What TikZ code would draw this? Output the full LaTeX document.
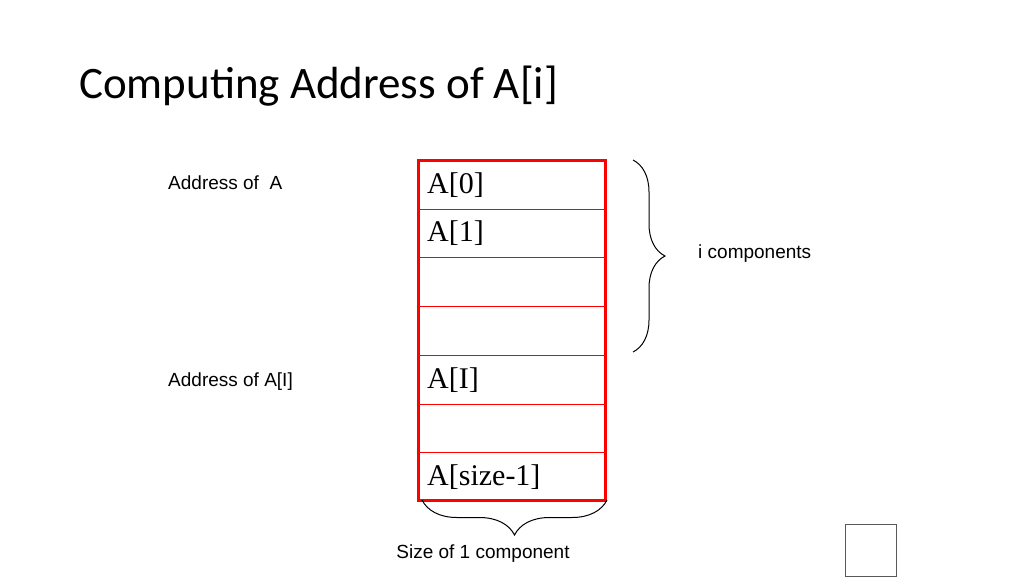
\documentclass[tikz,border=0pt]{standalone}
\usepackage{fontspec}
\setmainfont{Liberation Serif}
\newfontfamily\titlefont{Carlito}
\newfontfamily\labfont{Liberation Sans}
\usetikzlibrary{decorations.pathreplacing}
\begin{document}
\begin{tikzpicture}[x=1pt,y=-1pt,
  lab/.style={font=\labfont\fontsize{19}{22}\selectfont,anchor=west,inner sep=0},
  cell/.style={font=\fontsize{30}{34}\selectfont,anchor=west,inner sep=0},
  bracepath/.style={decorate,line width=1pt}]
\useasboundingbox (0,0) rectangle (1024,576);
\node[anchor=west,inner sep=0,font=\titlefont\fontsize{45}{50}\selectfont] (title) at (79,86) {Computing Address of A[i]};
\node[lab] (la) at (168,183) {Address of\ \ A};
\node[lab] (li) at (168,382) {Address of A[I]};
\foreach \y in {209,257,306,355,404,452} \draw[red,line width=0.8pt] (418,\y) -- (605,\y);
\draw[red,line width=3pt] (418,160) rectangle (605,500);
\node[cell] (c0) at (427,185) {A[0]};
\node[cell] (c1) at (427,233) {A[1]};
\node[cell] (ci) at (427,380) {A[I]};
\node[cell] (cs) at (427,477) {A[size-1]};
\coordinate (b1) at (633,160);
\coordinate (b2) at (633,352);
\draw[bracepath,decoration={brace,amplitude=32pt}] (b1) -- (b2);
\node[lab] (ic) at (698,254) {i components};
\coordinate (b3) at (607,500);
\coordinate (b4) at (422,500);
\draw[bracepath,decoration={brace,amplitude=35pt}] (b3) -- (b4);
\node[lab,anchor=center] (sz) at (483,554) {Size of 1 component};
\draw[gray!70!black,line width=1pt] (845,524) rectangle (896,576);
\end{tikzpicture}
\end{document}
